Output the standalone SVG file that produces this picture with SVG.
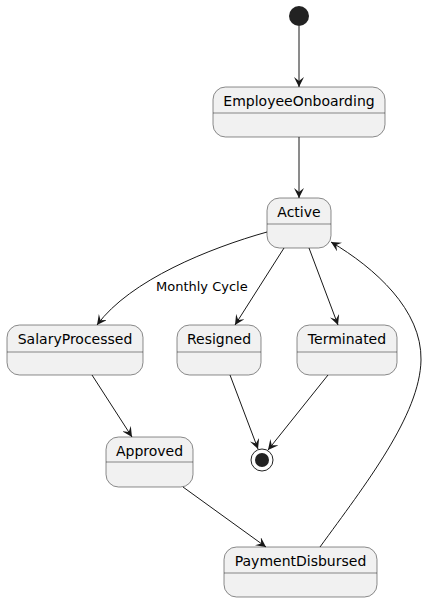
<svg xmlns="http://www.w3.org/2000/svg" width="430" height="602" viewBox="0 0 430 602">
<style>
.st{fill:#F1F1F1;stroke:#181818;stroke-width:0.5}
.dv{stroke:#181818;stroke-width:0.5}
.t{font-family:"DejaVu Sans",sans-serif;font-size:14px;fill:#000;text-anchor:middle}
.lb{font-family:"DejaVu Sans",sans-serif;font-size:13px;fill:#000}
.e{fill:none;stroke:#181818;stroke-width:1;marker-end:url(#ah)}
</style>
<defs>
<marker id="ah" markerWidth="12" markerHeight="10" refX="10" refY="5" orient="auto" markerUnits="userSpaceOnUse">
<path d="M0,0 L10,5 L0,10 L4,5 Z" fill="#181818"/>
</marker>
</defs>
<g id="start"><circle cx="299" cy="16" r="10" fill="#222"/></g>
<g id="EmployeeOnboarding"><rect class="st" x="213" y="87" width="172" height="50" rx="12.5"/><line class="dv" x1="213" y1="113" x2="385" y2="113"/><text class="t" x="299" y="106">EmployeeOnboarding</text></g>
<g id="Active"><rect class="st" x="267" y="198" width="64" height="50" rx="12.5"/><line class="dv" x1="267" y1="224" x2="331" y2="224"/><text class="t" x="299" y="217">Active</text></g>
<g id="SalaryProcessed"><rect class="st" x="7" y="325" width="136" height="50" rx="12.5"/><line class="dv" x1="7" y1="352" x2="143" y2="352"/><text class="t" x="75" y="344">SalaryProcessed</text></g>
<g id="Resigned"><rect class="st" x="177" y="325" width="84" height="50" rx="12.5"/><line class="dv" x1="177" y1="352" x2="261" y2="352"/><text class="t" x="219" y="344">Resigned</text></g>
<g id="Terminated"><rect class="st" x="297" y="325" width="100" height="50" rx="12.5"/><line class="dv" x1="297" y1="352" x2="397" y2="352"/><text class="t" x="347" y="344">Terminated</text></g>
<g id="Approved"><rect class="st" x="106" y="437" width="87" height="50" rx="12.5"/><line class="dv" x1="106" y1="462" x2="193" y2="462"/><text class="t" x="149.5" y="456">Approved</text></g>
<g id="end"><circle cx="262" cy="460" r="11" fill="none" stroke="#222" stroke-width="1"/><circle cx="262" cy="460" r="7" fill="#222"/></g>
<g id="PaymentDisbursed"><rect class="st" x="224" y="547" width="153" height="50" rx="12.5"/><line class="dv" x1="224" y1="573" x2="377" y2="573"/><text class="t" x="300.5" y="566">PaymentDisbursed</text></g>
<g id="connectors">
<path class="e" d="M299,26 L299,87"/>
<path class="e" d="M299,137 L299,198"/>
<path class="e" d="M267,232 C210,248 130,280 97,325"/>
<text class="lb" x="156" y="291">Monthly Cycle</text>
<path class="e" d="M284,248 L235,325"/>
<path class="e" d="M309,248 L338,325"/>
<path class="e" d="M92,375 L132,437"/>
<path class="e" d="M230,375 L258,449"/>
<path class="e" d="M328,375 L268,450"/>
<path class="e" d="M183,487 L266,547"/>
<path class="e" d="M320,547 C365,485 420,415 421,360 C422,310 375,268 331,242"/>
</g>
</svg>
